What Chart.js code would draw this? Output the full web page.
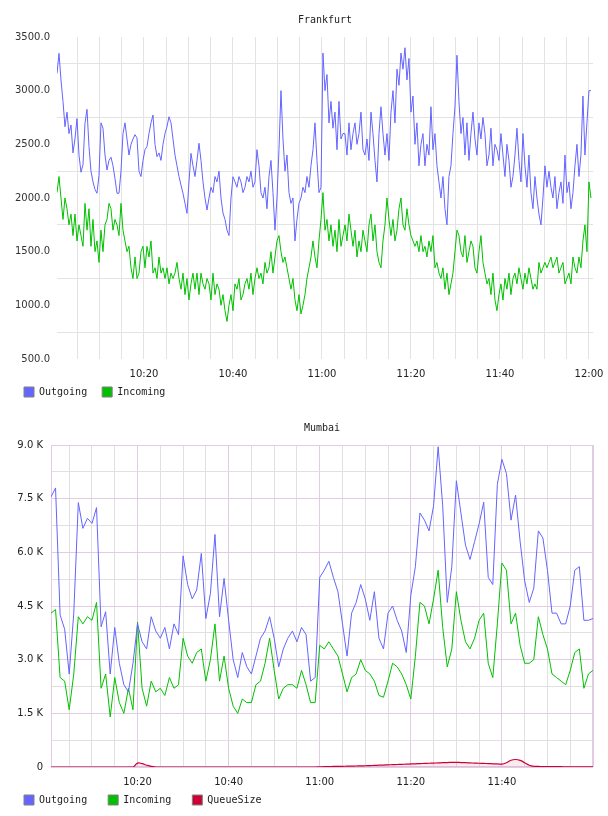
<!DOCTYPE html>
<html>
<head>
<meta charset="utf-8">
<title>Frankfurt / Mumbai</title>
<script src="https://cdn.jsdelivr.net/npm/chart.js@4.4.1/dist/chart.umd.min.js"></script>
<style>
  html, body { margin: 0; padding: 0; background: #fff; }
  canvas { display: block; }
</style>
</head>
<body>
<canvas id="frankfurt" width="608" height="408"></canvas>
<canvas id="mumbai" width="608" height="408"></canvas>
<script>
// FRANKFURT - one sample every 27 s, minutes after 10:00
var ffStart = 0.45;
var ffStep = 0.4494;
var ffOutgoing = [
    3160,3348,3100,2900,2664,2800,2600,2680,2420,2550,
    2740,2400,2240,2310,2696,2826,2480,2250,2150,2080,
    2044,2210,2700,2650,2400,2261,2350,2380,2300,2180,
    2044,2044,2250,2600,2700,2550,2400,2500,2550,2590,
    2560,2250,2200,2350,2450,2480,2600,2700,2773,2500,
    2385,2420,2350,2500,2600,2664,2757,2700,2550,2400,
    2300,2200,2120,2044,1950,1857,2150,2416,2300,2200,
    2350,2510,2350,2150,2000,1888,2000,2100,2050,2200,
    2150,2250,2000,1860,1800,1700,1650,2000,2198,
    2150,2100,2200,2150,2050,2100,2200,2150,2250,2100,
    2150,2450,2300,2050,2000,2100,1900,2200,2350,2050,
    1700,2000,2450,3000,2550,2250,2400,2050,1950,2000,
    1600,1800,1950,2000,2100,2050,2200,2100,2300,2450,
    2700,2350,2050,2100,3350,3000,3150,2700,2900,2650,
    2800,2450,2900,2550,2600,2600,2400,2700,2450,2600,
    2700,2500,2600,2800,2450,2400,2550,2350,2800,2600,
    2350,2150,2600,2850,2600,2400,2600,2350,2800,3000,
    2700,3200,3050,3350,3200,3400,3100,3300,2800,2950,
    2500,2700,2300,2500,2600,2300,2500,2400,2850,2450,
    2600,2300,2150,2000,2200,1900,1750,2200,2300,2600,
    2850,3330,2900,2600,2750,2400,2700,2350,2600,2800,
    2550,2400,2700,2550,2750,2600,2300,2400,2650,2300,
    2500,2450,2350,2600,2400,2200,2500,2350,2100,2200,
    2400,2650,2350,2150,2600,2300,2100,2400,2050,1900,
    2200,2000,1850,1750,2000,2300,2100,2250,2100,2000,
    2200,1900,2050,2150,1950,2400,2050,2150,1900,2050,
    2300,2500,2200,2400,2950,2400,2700,3000,3000
];
var ffIncoming = [
    2050,2200,2000,1800,2000,1900,1750,1850,1650,1850,
    1600,1750,1650,1550,1950,1700,1900,1550,1800,1500,
    1600,1400,1700,1500,1750,1800,1950,1900,1700,1800,
    1750,1650,1950,1700,1600,1500,1550,1350,1250,1450,
    1250,1300,1500,1550,1350,1550,1450,1600,1300,1350,
    1250,1450,1300,1350,1250,1350,1200,1300,1250,1300,
    1400,1250,1150,1300,1100,1250,1050,1200,1300,1150,
    1300,1100,1300,1200,1150,1250,1200,1050,1300,1100,
    1200,1150,1000,1100,950,850,1000,1100,950,1200,
    1150,1250,1050,1100,1200,1250,1150,1300,1100,1250,
    1350,1250,1300,1200,1400,1300,1350,1500,1300,1450,
    1600,1650,1500,1400,1450,1350,1250,1150,1250,1050,
    950,1100,920,1000,1100,1250,1350,1450,1600,1450,
    1350,1600,1800,2050,1700,1800,1600,1750,1550,1700,
    1500,1800,1550,1650,1750,1600,1850,1700,1550,1700,
    1450,1600,1500,1700,1600,1500,1750,1850,1600,1750,
    1500,1400,1350,1600,1750,2000,1800,1650,1800,1600,
    1700,1900,2000,1750,1700,1900,1750,1650,1600,1550,
    1600,1500,1650,1500,1550,1450,1600,1500,1650,1350,
    1400,1300,1250,1350,1150,1300,1100,1200,1300,1500,
    1700,1650,1500,1450,1650,1400,1500,1600,1550,1350,
    1300,1500,1650,1400,1300,1200,1250,1100,1300,1050,
    950,1100,1200,1050,1250,1150,1300,1100,1250,1300,
    1200,1350,1250,1150,1300,1200,1350,1250,1150,1200,
    1150,1400,1300,1350,1400,1350,1400,1450,1350,1400,
    1450,1300,1350,1400,1200,1250,1300,1200,1450,1350,
    1300,1450,1350,1600,1750,1500,2150,2000
];

// MUMBAI - one sample per minute, 10:01 .. 12:00
var muStart = 1;
var muStep = 1;
var muOutgoing = [
    7550,7800,4250,3850,2600,4300,7390,6670,6950,6810,
    7250,3920,4340,2600,3900,2900,2300,2100,2900,4000,
    3500,3300,4200,3800,3600,3900,3300,4000,3700,5900,
    5100,4700,4950,5970,4150,4850,6500,4200,5270,4100,
    3000,2500,3200,2800,2600,3100,3600,3800,4200,3600,
    2800,3300,3600,3800,3500,3900,3700,2400,2500,5300,
    5500,5750,5300,4900,4000,3100,4300,4600,5100,4700,
    4100,4900,3600,3300,4300,4500,4100,3800,3200,4800,
    5600,7100,6900,6600,7300,8950,7300,4600,5600,8000,
    7100,6200,5800,6300,6800,7400,5300,5100,7900,8600,
    8200,6900,7600,6300,5200,4600,5000,6600,6400,5500,
    4300,4300,4000,4000,4500,5500,5600,4100,4100,4150
];
var muIncoming = [
    4300,4400,2500,2400,1600,2600,4200,4000,4200,4100,
    4600,2200,2600,1400,2500,1800,1500,2200,1600,4050,
    2200,1700,2400,2100,2200,2000,2500,2200,2300,3600,
    3100,2900,3200,3300,2400,3000,4000,2400,3100,2200,
    1700,1500,1900,1800,1800,2300,2400,2900,3600,2700,
    1900,2200,2300,2300,2200,2700,2300,1800,1800,3400,
    3300,3500,3300,3100,2600,2100,2500,2600,3000,2700,
    2600,2400,2000,1950,2400,2900,2800,2600,2300,1900,
    3100,4600,4500,4000,4700,5500,3900,2800,3300,4900,
    4100,3500,3300,3600,4100,4300,2900,2500,4000,5700,
    5500,4000,4300,3400,2900,2900,3000,4200,3700,3300,
    2600,2500,2400,2300,2700,3200,3300,2200,2600,2700
];
var muQueue = [
    0,0,0,0,0,0,0,0,0,0,
    0,0,0,0,0,0,0,0,0,110,
    95,50,15,0,0,0,0,0,0,0,
    0,0,0,0,0,0,0,0,0,0,
    0,0,0,0,0,0,0,0,0,0,
    0,0,0,0,0,0,0,0,0,5,
    10,12,15,18,20,22,25,28,30,35,
    40,45,50,55,60,65,70,75,80,85,
    90,95,100,105,110,115,120,125,128,130,
    125,120,115,110,105,100,95,90,85,80,
    120,190,210,185,120,50,20,15,12,10,
    10,8,8,6,6,5,5,5,5,5
];

var ffTimes = ffOutgoing.map(function (v, i) { return ffStart + i * ffStep; });
var muTimes = muOutgoing.map(function (v, i) { return muStart + i * muStep; });

var BLUE = '#6464ff';
var GREEN = '#00c000';
var RED = '#cc0036';

Chart.defaults.font.family = "'DejaVu Sans', sans-serif";
Chart.defaults.font.size = 10;
Chart.defaults.color = '#222';

function points(times, values) {
    return values.map(function (v, i) { return { x: times[i], y: v }; });
}

function hhmm(m) {
    var h = 10 + Math.floor(m / 60);
    var mm = Math.round(m % 60);
    return h + ':' + (mm < 10 ? '0' + mm : mm);
}

// legend squares: series colour with a grey frame
function legendLabels(chart) {
    return Chart.defaults.plugins.legend.labels.generateLabels(chart).map(function (item) {
        item.fillStyle = chart.data.datasets[item.datasetIndex].borderColor;
        item.strokeStyle = '#808080';
        item.lineWidth = 1;
        return item;
    });
}

// frame round the plot area (Mumbai only)
var frameBorder = {
    id: 'frameBorder',
    beforeDatasetsDraw: function (chart, args, opts) {
        if (!opts.color) return;
        var a = chart.chartArea, ctx = chart.ctx;
        ctx.save();
        ctx.strokeStyle = opts.color;
        ctx.lineWidth = 1;
        ctx.strokeRect(Math.round(a.left) + 0.5, Math.round(a.top) + 0.5,
            Math.round(a.right - a.left) - 1, Math.round(a.bottom - a.top) - 1);
        ctx.restore();
    }
};

function lineSet(label, color, data, extra) {
    var ds = {
        label: label,
        data: data,
        borderColor: color,
        backgroundColor: color,
        borderWidth: 1,
        pointRadius: 0,
        tension: 0,
        fill: false
    };
    return Object.assign(ds, extra || {});
}

// x labels are mirrored (not clipped to the axis box) so the legend can sit close under them
function timeAxis(min, max, height, maxLabel, gridColor) {
    return {
        type: 'linear',
        min: min, max: max,
        afterFit: function (scale) { scale.height = height; },
        border: { display: false },
        grid: { drawTicks: false, color: gridColor },
        ticks: {
            stepSize: 5, includeBounds: false, padding: -21, mirror: true, autoSkip: false, maxRotation: 0,
            callback: function (v) { return v % 20 === 0 && v > 0 && v <= maxLabel ? hhmm(v) : ''; }
        }
    };
}

// FRANKFURT
new Chart(document.getElementById('frankfurt'), {
    type: 'line',
    data: {
        datasets: [
            lineSet('Outgoing', BLUE, points(ffTimes, ffOutgoing)),
            lineSet('Incoming', GREEN, points(ffTimes, ffIncoming))
        ]
    },
    plugins: [frameBorder],
    options: {
        responsive: false,
        animation: false,
        layout: { padding: { left: 9, right: 15, top: 0, bottom: 1 } },
        plugins: {
            title: {
                display: true,
                text: 'Frankfurt',
                fullSize: false,
                color: '#222',
                font: { family: "'DejaVu Sans Mono', monospace", size: 10, weight: 'normal' },
                padding: { top: 14, bottom: 11 }
            },
            legend: {
                position: 'bottom',
                align: 'start',
                labels: {
                    boxWidth: 10, boxHeight: 10, padding: 15,
                    font: { family: "'DejaVu Sans Mono', monospace", size: 10 },
                    generateLabels: legendLabels
                }
            },
            tooltip: { enabled: false },
            frameBorder: {}
        },
        scales: {
            x: timeAxis(0.45, 120.9, 13, 120, function (c) {
                return c.tick.value % 5 === 0 ? '#e3e3e3' : 'rgba(0,0,0,0)';
            }),
            y: {
                min: 500, max: 3500,
                afterFit: function (scale) { scale.width = 48; },
                border: { display: false },
                grid: {
                    drawTicks: false,
                    color: function (c) { return c.tick.value % 500 === 0 ? 'rgba(0,0,0,0)' : '#e3e3e3'; }
                },
                ticks: {
                    stepSize: 250, padding: 7, autoSkip: false, color: '#333',
                    callback: function (v) { return v % 500 === 0 ? v.toFixed(1) : ''; }
                }
            }
        }
    }
});

// MUMBAI
var MAJOR = '#e2cce4';
var MINOR = '#e0e0e0';

new Chart(document.getElementById('mumbai'), {
    type: 'line',
    data: {
        datasets: [
            lineSet('Outgoing', BLUE, points(muTimes, muOutgoing)),
            lineSet('Incoming', GREEN, points(muTimes, muIncoming)),
            lineSet('QueueSize', RED, points(muTimes, muQueue), {
                tension: 0.4, fill: 'origin', backgroundColor: 'rgba(204,0,54,0.08)', borderWidth: 1.2
            })
        ]
    },
    plugins: [frameBorder],
    options: {
        responsive: false,
        animation: false,
        layout: { padding: { left: 3, right: 15, top: 0, bottom: 1 } },
        plugins: {
            title: {
                display: true,
                text: 'Mumbai',
                fullSize: false,
                color: '#222',
                font: { family: "'DejaVu Sans Mono', monospace", size: 10, weight: 'normal' },
                padding: { top: 14, bottom: 11 }
            },
            legend: {
                position: 'bottom',
                align: 'start',
                labels: {
                    boxWidth: 10, boxHeight: 10, padding: 21,
                    font: { family: "'DejaVu Sans Mono', monospace", size: 10 },
                    generateLabels: legendLabels
                }
            },
            tooltip: { enabled: false },
            frameBorder: { color: MAJOR }
        },
        scales: {
            x: timeAxis(1, 120, 7, 119, function (c) {
                return c.tick.value % 20 === 0 ? MAJOR : (c.tick.value % 5 === 0 ? MINOR : 'rgba(0,0,0,0)');
            }),
            y: {
                min: 0, max: 9000,
                afterFit: function (scale) { scale.width = 48; },
                border: { display: false },
                grid: {
                    drawTicks: false,
                    color: function (c) { return c.tick.value % 1500 === 0 ? MAJOR : MINOR; }
                },
                ticks: {
                    stepSize: 750, padding: 8, autoSkip: false,
                    callback: function (v) {
                        if (v % 1500 !== 0) return '';
                        return v === 0 ? '0' : (v / 1000).toFixed(1) + ' K';
                    }
                }
            }
        }
    }
});
</script>
</body>
</html>
